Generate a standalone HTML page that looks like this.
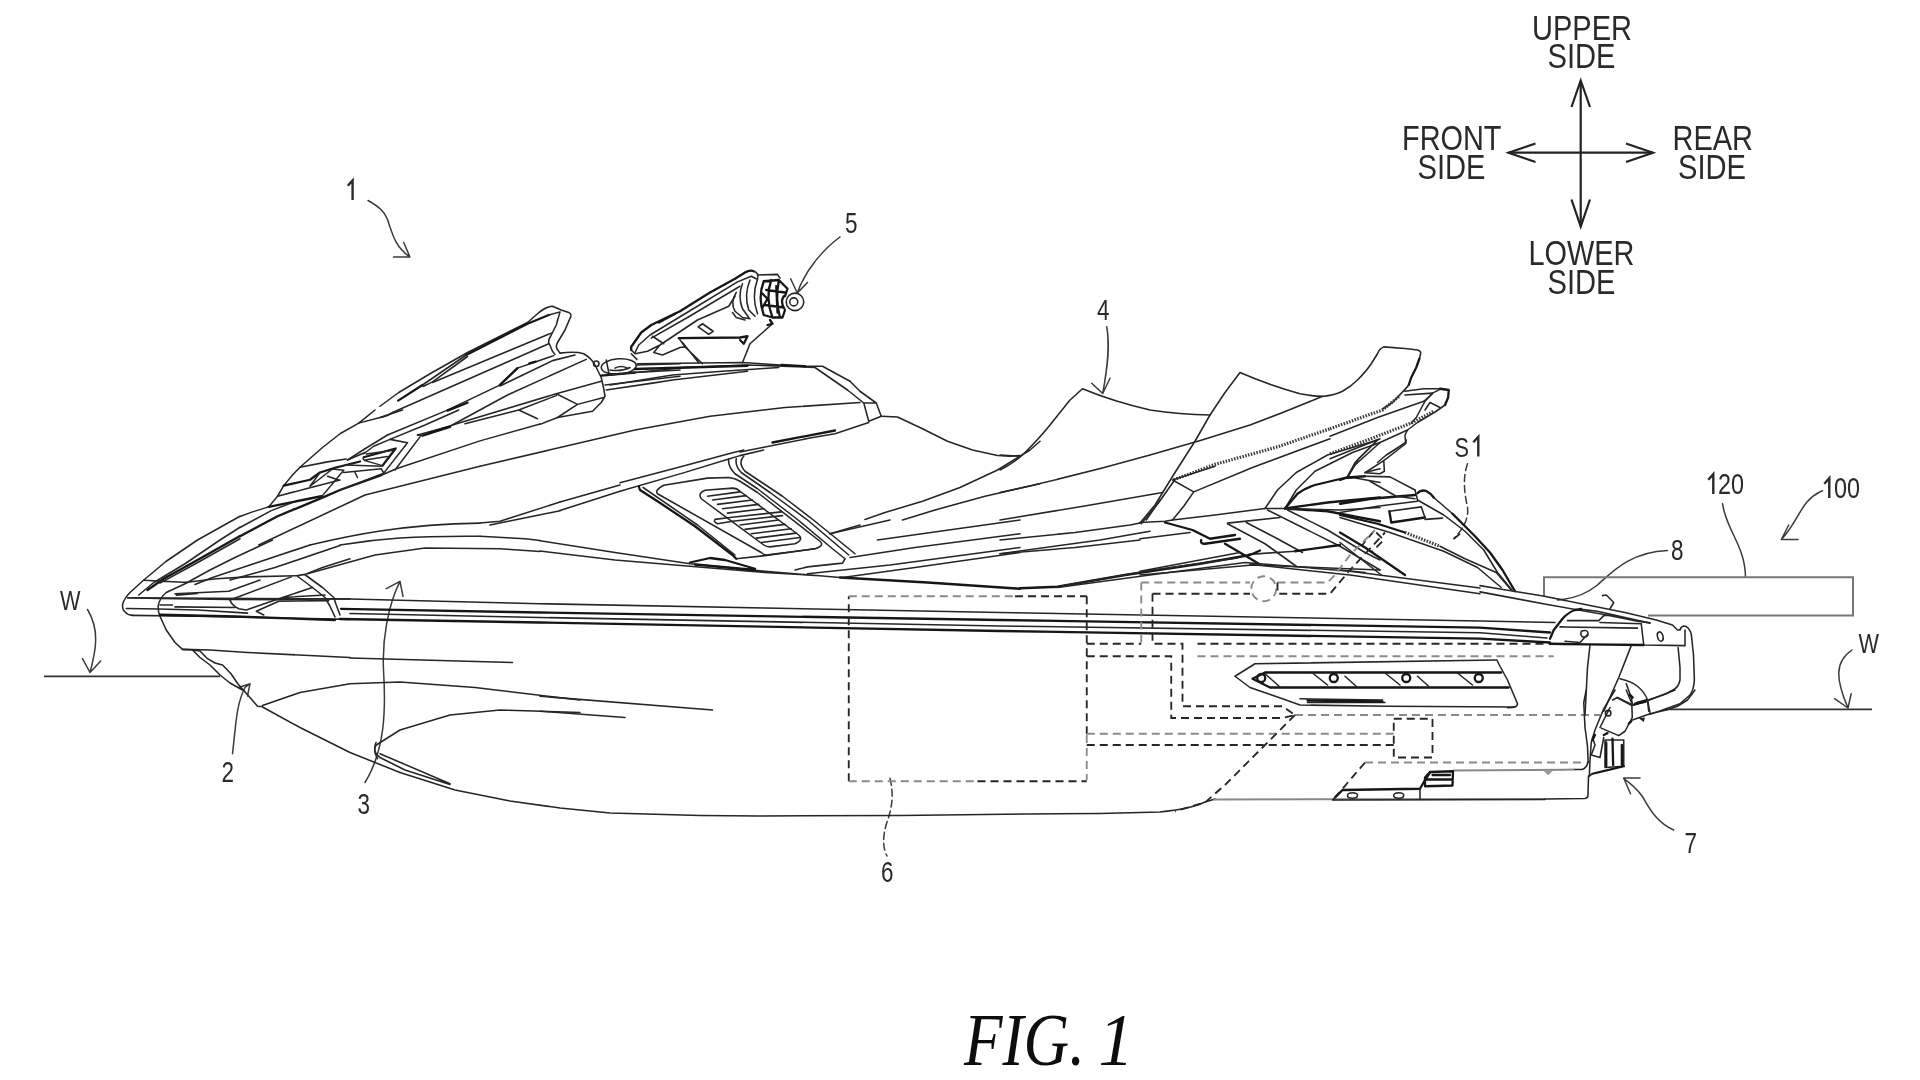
<!DOCTYPE html>
<html><head><meta charset="utf-8"><title>FIG. 1</title>
<style>
html,body{margin:0;padding:0;background:#fff;}
body{width:1920px;height:1080px;overflow:hidden;font-family:"Liberation Sans",sans-serif;}
svg{display:block;position:absolute;left:0;top:0;}
.t{font-family:"Liberation Sans",sans-serif;fill:#2a2a2a;}
.c{font-size:35.5px;}
.l{font-size:29.5px;}
.w{font-size:27.5px;}
.s,.s2,.th,.d,.dl{vector-effect:non-scaling-stroke;}
.s{fill:none;stroke:#262626;stroke-width:1.55;stroke-linecap:round;stroke-linejoin:round;}
.s2{fill:none;stroke:#151515;stroke-width:2.3;stroke-linecap:round;stroke-linejoin:round;}
.th{fill:none;stroke:#333;stroke-width:1;stroke-linecap:round;stroke-linejoin:round;}
.d{fill:none;stroke:#262626;stroke-width:1.85;stroke-dasharray:8 5;}
.dl{fill:none;stroke:#8a8a8a;stroke-width:1.85;stroke-dasharray:8 5;}
.g{fill:none;stroke:#888;stroke-width:2;vector-effect:non-scaling-stroke;}
.a{fill:none;stroke:#3a3a3a;stroke-width:1.5;stroke-linecap:round;stroke-linejoin:round;}
.hz{fill:none;stroke:#3a3a3a;stroke-width:3.2;stroke-dasharray:1.5 1.4;vector-effect:non-scaling-stroke;}
.one{fill:none;stroke:#2a2a2a;stroke-width:2.4;stroke-linejoin:miter;stroke-linecap:butt;}
.k{fill:none;stroke:#222;stroke-width:2.2;stroke-linecap:butt;stroke-linejoin:miter;}
</style></head><body>
<svg width="1920" height="1080" viewBox="0 0 1920 1080">
<defs><filter id="soft" x="0" y="0" width="1920" height="1080" filterUnits="userSpaceOnUse"><feGaussianBlur stdDeviation="0.55"/></filter></defs>
<rect width="1920" height="1080" fill="#fff"/>
<g filter="url(#soft)">
<!-- COMPASS -->
<g id="compass">
<text class="t c" x="1532" y="39.5" textLength="100" lengthAdjust="spacingAndGlyphs">UPPER</text>
<text class="t c" x="1547.5" y="68" textLength="68" lengthAdjust="spacingAndGlyphs">SIDE</text>
<text class="t c" x="1402" y="149.5" textLength="99.5" lengthAdjust="spacingAndGlyphs">FRONT</text>
<text class="t c" x="1417.5" y="178.5" textLength="68" lengthAdjust="spacingAndGlyphs">SIDE</text>
<text class="t c" x="1672.5" y="149.5" textLength="80.5" lengthAdjust="spacingAndGlyphs">REAR</text>
<text class="t c" x="1678" y="178.5" textLength="68" lengthAdjust="spacingAndGlyphs">SIDE</text>
<text class="t c" x="1528.5" y="264.5" textLength="106" lengthAdjust="spacingAndGlyphs">LOWER</text>
<text class="t c" x="1547.5" y="293.5" textLength="68" lengthAdjust="spacingAndGlyphs">SIDE</text>
<path class="k" d="M1580.7 81V226M1508.5 152.7H1653"/>
<path class="k" d="M1571.5 107L1580.7 80.5L1590 107M1571.5 199.5L1580.7 226.5L1590 199.5M1535.5 143.5L1508.5 152.7L1535.5 162M1626 143.5L1653 152.7L1626 162"/>
</g>
<!-- LABELS -->
<g id="labels">
<path class="one" d="M347.8 185.8L352.6 180.4V200"/>
<text class="t l" x="845" y="232.5" textLength="12.5" lengthAdjust="spacingAndGlyphs">5</text>
<text class="t l" x="1097" y="320" textLength="12.5" lengthAdjust="spacingAndGlyphs">4</text>
<text class="t w" x="1454.5" y="456.5" textLength="14.5" lengthAdjust="spacingAndGlyphs">S</text><path class="one" d="M1473.3 442.3L1478.3 436.8V456.5"/>
<path class="one" d="M1708.3 479.8L1713.3 474.2V494"/><text class="t l" x="1718" y="494" textLength="26" lengthAdjust="spacingAndGlyphs">20</text>
<path class="one" d="M1824.3 483.8L1829.3 478.2V498"/><text class="t l" x="1834" y="498" textLength="26" lengthAdjust="spacingAndGlyphs">00</text>
<text class="t l" x="1671" y="559.5" textLength="12.5" lengthAdjust="spacingAndGlyphs">8</text>
<text class="t w" x="60" y="609.5" textLength="20.5" lengthAdjust="spacingAndGlyphs">W</text>
<text class="t w" x="1858.5" y="652.5" textLength="20.5" lengthAdjust="spacingAndGlyphs">W</text>
<text class="t l" x="221.5" y="782" textLength="12.5" lengthAdjust="spacingAndGlyphs">2</text>
<text class="t l" x="357.5" y="813.5" textLength="12.5" lengthAdjust="spacingAndGlyphs">3</text>
<text class="t l" x="881" y="882" textLength="12.5" lengthAdjust="spacingAndGlyphs">6</text>
<text class="t l" x="1684.5" y="852.5" textLength="12.5" lengthAdjust="spacingAndGlyphs">7</text>
</g>
<!-- FIG caption -->
<text transform="translate(964,1065) scale(0.865,1)" style="font-family:'Liberation Serif',serif;font-style:italic;font-size:73px;fill:#111">FIG.</text>
<text transform="translate(1098.5,1065) scale(0.96,1)" style="font-family:'Liberation Serif',serif;font-style:italic;font-size:73px;fill:#111">1</text>
<!-- LEADERS -->
<g id="leaders">
<path class="a" d="M368 200.5C380 207 386 213 389 224C393 236 396 247 409 256.3M393.5 257H410M403.7 242.5L409.5 256"/>
<path class="a" d="M840 237C826 247 806 268 797.3 293M790.6 278.7L797.3 293L807.5 282.5"/>
<path class="a" d="M1106.7 326.7C1110 345 1108 365 1102.7 393.5M1091.7 383.3L1102.7 393.5L1110 378.3"/>
<path class="a" d="M1722.5 503.7C1726 530 1745 545 1745.5 577"/>
<path class="a" d="M1822.5 490.7C1800 500 1800 520 1781.3 539.5M1798 539.5H1781.3L1788.7 525"/>
<path class="a" d="M1667.5 550.5C1630 552 1612 572 1597.5 585C1585 595 1572 599 1557.5 600"/>
<path class="a" d="M87.5 609.5C100 630 96 650 90 672.5M82.5 658.7L90 672.5L100.7 661"/>
<path class="a" d="M1852 650C1834 662 1836 680 1848 708M1834.5 698.7L1848 708L1851.2 693.7"/>
<path class="a" d="M232.5 753.7C236 725 236 705 245 687.5L250 683.7M238.7 687.5L250 683.7L247.5 696"/>
<path class="a" d="M365 782.5C385 750 386 710 383.5 670C382 640 388 605 400 581.3M386.3 588.7L400 581.3L403 596.3"/>
<path class="a" d="M1673.7 830C1655 822 1648 805 1642 796C1636 788 1630 783 1623.7 778.7M1640 778H1623.7L1630.5 793.7"/>
<path class="a" style="stroke-dasharray:7 4" d="M1467.5 463.7C1462 480 1465 495 1467.5 507.5C1469 520 1462 530 1453.7 538.7"/>
<path class="a" style="stroke-dasharray:7 4" d="M890 778.3C894 795 892 808 887 822C882 838 883 848 887 856"/>
</g>
<!-- RECT 120 + water lines -->
<path d="M1544 596.5V577.2H1853V615.5H1648" fill="none" stroke="#777" stroke-width="2"/>
<path d="M44 676.3H220M1665 709.3H1872" fill="none" stroke="#333" stroke-width="1.8"/>
<!-- BOAT -->
<g id="boat">
<!-- T1: cowl 8x [440,290] -->
<g transform="translate(440,290) scale(0.125)">
<path class="s" d="M960 505C1040 495 1100 495 1150 510C1200 540 1230 580 1240 600L1290 700L1310 790L1320 850L1290 900L1220 970L940 1020"/>
<path class="s" d="M100 1080L930 830L1290 730M930 830L1100 915L1310 860M1100 915L940 1020L800 1075M200 1070L630 960L780 1030M630 960L930 845"/>
<ellipse class="s" cx="1430" cy="612" rx="140" ry="62" transform="rotate(-4 1430 612)"/>
<path class="s" d="M1330 560L1350 660M1360 640C1420 650 1480 640 1520 620M1400 625Q1450 600 1500 625"/>
<circle class="s" cx="1250" cy="590" r="22"/>
<path class="s2" d="M1290 685L1560 660"/>
<path class="s" d="M1570 600L1920 590M1560 660L1920 640M1320 760L1920 690M1330 800L1700 745"/>
</g>
<!-- V: visor 8x [380,300] -->
<g transform="translate(380,300) scale(0.125)">
<path class="s" d="M0 850L150 740L400 590L700 420L1000 270L1180 180L1260 110Q1320 55 1380 50L1450 80L1510 100Q1535 110 1525 135L1480 240L1420 340Q1405 370 1415 390L1440 425"/>
<path class="s2" d="M145 805L340 680M690 440L1180 190L1350 120"/>
<path class="s" d="M340 680L690 440M345 692L420 655L700 452M1350 120L1440 95L1410 200L1370 280Q1345 320 1350 340L1380 410L1400 435"/>
<path class="s" d="M420 660L1370 265M0 940C40 935 60 925 100 900L1350 350"/>
<path class="s" d="M60 1080L530 885L950 685L1100 545L1230 500L1390 445"/>
<path class="s2" d="M540 885L700 822M960 680L1100 545M1195 507L1245 493"/>
<path class="s" d="M960 688L1380 485L1560 440M300 1080L560 1010L1020 760L1650 475"/>
<path class="s2" d="M400 1060L560 1010"/>
</g>
<!-- W: vents 8x [240,410] -->
<g transform="translate(240,410) scale(0.125)">
<path class="s" d="M1080 0L950 105L800 190L660 300L480 458L420 520L350 605L300 690L230 775L100 815L0 852"/>
<path class="s" d="M950 105L1120 60L1300 0"/>
<path class="s" d="M480 458L700 415L850 392"/>
<path class="s2" d="M350 605L560 558L640 500L760 462L960 412"/>
<path class="s" d="M300 690L560 622L800 560"/>
<path class="s2" d="M230 775L650 690"/>
<path class="s2" d="M0 1010L300 850L650 705L800 640L1130 522"/>
<path class="s" d="M1130 522L1250 470L1920 247L2400 112"/>
<path class="s" d="M0 940L250 805L420 740"/>
<path class="s" d="M150 1080L1000 680L1920 450"/>
<path class="s" d="M560 1080C900 1000 1300 915 1920 905M800 1080C1100 1030 1400 1005 1920 1010"/>
<path class="s" d="M1180 200L1000 310L860 400M1750 0L1480 120L1200 235L1070 290L990 350"/>
<path class="s2" d="M1680 135L1460 205"/>
<path class="s" d="M1460 205L1420 200M1440 215L1240 480M1340 262L1150 505M1200 235L1340 262"/>
<path class="s2" d="M990 378L1245 308L1140 445"/>
<path class="s" d="M1140 445L1000 405Q975 390 990 378M1010 352L1230 322M1000 400L1180 372M860 400L1000 340"/>
<path class="s" d="M850 440L1130 450M830 500L1130 470L1150 505L800 640"/>
<path class="s" d="M560 610L740 472L830 482L660 685M640 500L560 610M700 530L790 560M920 500L940 540"/>
</g>
<!-- B: nose 8x [110,540] -->
<g transform="translate(110,540) scale(0.125)">
<path class="s" d="M1040 -190L700 0L450 170L270 320L160 420Q110 470 100 520Q100 560 120 575Q140 600 180 603"/>
<path class="s" d="M1040 -102L880 0L600 190L350 340L230 440"/>
<path class="s2" d="M1040 -32L700 160L430 310L300 400"/>
<path class="s" d="M1040 -10L720 170L400 345M270 322L620 340"/>
<path class="s" d="M1300 0L1000 140L800 240L600 350L450 420Q395 465 385 530Q385 580 400 610L450 720L520 820L580 875L680 880"/>
<path class="s" d="M580 875L800 880L1100 900L1920 940"/>
<path class="s" d="M140 462L390 468L950 475L1380 478L1750 470L1920 472M400 520L500 520M520 535L1000 540M130 548L390 552L700 560L1100 585M180 603L700 610L1200 620L1920 635"/>
<path class="s2" d="M400 598L1000 612L1800 640"/>
<path class="s" d="M600 340L850 310L1100 295L1500 285L1560 275L1700 220L1920 150"/>
<path class="s" d="M1560 278L1700 380L1790 460L1810 520L1840 600M1500 290L1620 380L1720 460L1760 530L1800 615"/>
<path class="s" d="M520 430L950 410L1200 320M530 442L700 428M960 480L1450 295M1090 560L1350 470L1620 380M1170 570L1350 490L1750 485M960 480Q970 520 1030 550L1090 560M1380 460L1720 440M1170 570L1230 600"/>
</g>
<!-- N: front hull 4x [100,490] -->
<g transform="translate(100,490) scale(0.25)">
<path class="s" d="M380 378L450 350L600 300L840 220M520 360L700 310L960 222M830 335L1100 260L1300 232L1600 235L1760 246"/>
<path class="s" d="M1520 132L1600 125L1840 48M1560 140L1840 83M1520 185L1700 195L1760 202"/>
<path class="s" d="M650 868L800 950L1000 1050L1200 1130"/>
<path class="s" d="M650 862L800 810L1000 775L1200 768L1500 790L1920 840"/>
<path class="s" d="M1105 1020L1200 960L1400 900L1600 880L1920 890M1105 1020Q1090 1040 1110 1075"/>
<path class="s" d="M1000 672L1650 690"/>
</g>
<!-- HB: handlebar 8x [610,255] -->
<g transform="translate(610,255) scale(0.125)">
<path class="s2" d="M170 760Q165 730 180 720L250 620L330 560L560 450L800 300L1000 190L1080 140Q1120 115 1150 130"/>
<path class="s" d="M1150 130Q1195 145 1180 195M200 780L230 720L320 640L600 470L1020 215L1130 170L1170 190M330 665L620 500L1040 250"/>
<path class="s2" d="M390 540L520 470"/>
<path class="s" d="M170 760L200 790L300 770L400 720L700 520L950 410L1000 330M400 720L350 780L420 800L560 740L600 735M340 650L430 710M170 790L215 835"/>
<path class="s2" d="M550 665L1040 660L1100 650L1070 710L1040 680"/>
<path class="s" d="M550 665L600 735L740 870M580 700L710 862M1300 550L1120 710L1060 860"/>
<path class="s" d="M705 575L740 550L825 610L790 635Z"/>
<path class="s" d="M1010 300Q960 380 1000 450L1060 500L1120 510M1060 230Q1020 330 1060 430L1110 500M1120 200Q1070 320 1110 440L1160 490M1180 195Q1130 330 1180 470M980 460L1010 500L1080 520M1180 160L1340 155L1360 185"/>
<circle class="s" cx="1480" cy="375" r="70"/><circle class="s" cx="1470" cy="375" r="32"/>
<path class="s2" d="M1230 210Q1180 340 1230 480M1290 200Q1240 340 1300 500M1350 210Q1320 350 1360 500M1230 210L1350 200L1420 270L1400 330M1230 480L1300 500L1380 500L1400 440M1250 280L1400 300M1240 400L1390 420M1330 250L1340 460M1280 520L1300 550L1260 560M1210 300L1260 350L1220 420M1390 330Q1360 375 1395 430"/>
<path class="s" d="M220 870L1060 860L1360 880M1560 890L1700 890L1920 1010M0 960L600 900L1100 880L1640 900L1900 1080M0 1040L500 960L900 930L1350 900M340 1025L500 1000L1100 930"/>
<path class="s2" d="M1370 880L1560 890M200 912L1100 886"/>
</g>
<!-- H: console 4x [560,250] -->
<g transform="translate(560,250) scale(0.25)">
<path class="s" d="M1160 525L1200 565L1265 612L1285 665M1150 560L1215 612L1235 685M1215 612L1265 612M1235 685L1285 665"/>
<path class="s" d="M-320 865L0 790L300 720L600 665L900 630L1200 610"/>
<path class="s" d="M0 1008L240 940M0 1042L240 965"/>
<path class="s" d="M1285 665L1350 668L1450 715L1550 765L1650 800L1750 822L1800 825L1840 822"/>
<path class="s" d="M1920 765L1880 800L1840 825L1750 880L1600 950L1450 1005L1300 1050L1220 1078M1920 935L1700 985L1500 1040L1370 1080"/>
<path class="s" d="M1235 690L1100 735L1000 752L720 808"/>
<path class="s2" d="M850 770L1100 722"/>
</g>
<!-- G: vent 8x [620,450] -->
<g transform="translate(620,450) scale(0.125)">
<path class="s" d="M0 262L500 130L900 22L990 0M0 330L500 185L870 72L960 45L1150 0"/>
<path class="s2" d="M150 290L160 320L300 410L600 610L900 840L930 870"/>
<path class="s" d="M185 300L620 600L920 840"/>
<path class="s" d="M870 72Q860 130 920 190L1100 310L1400 540L1700 790L1800 870M930 70Q920 130 970 180L1200 340L1500 560L1830 840M990 50Q940 100 1000 170L1300 370L1560 570L1880 830"/>
<path class="s" d="M300 350Q275 320 350 282L700 225L870 220Q920 225 960 250L1100 340L1600 730Q1640 765 1560 790L1170 840Q1150 840 1130 820Z"/>
<path class="s" d="M650 390Q620 345 680 322L900 305Q935 305 960 330L1430 680Q1470 720 1400 750L1200 775Q1170 775 1150 760Z"/>
<path class="s" d="M700 370L960 335M740 400L1010 365M780 435L1060 400M820 470L1110 435M860 505L1150 470M960 600L1270 560M1000 635L1320 595M1050 670L1370 630M1090 705L1410 665M1130 740L1440 700"/>
<path class="s" d="M760 555L880 540L1290 495M780 590L900 570L1300 525M760 555Q745 575 780 590"/>
<path class="s" d="M930 870L1160 845L1560 790M1800 870L1780 905L1500 935L1400 960M1680 670L1920 600"/>
</g>
<!-- S: seats 4x [1000,320] -->
<g transform="translate(1000,320) scale(0.25)">
<path class="s" d="M0 600Q60 570 100 530Q160 470 200 420L280 320L330 275Q450 325 600 360Q720 378 840 380"/>
<path class="s" d="M0 540L80 545"/>
<path class="s" d="M560 812L620 740L700 610L780 485L840 380L900 290L960 210Q1080 262 1200 295Q1250 305 1290 305"/>
<path class="s" d="M0 690Q300 625 600 540Q800 485 1000 420Q1150 365 1290 305"/>
<path class="s" d="M0 800L350 742L650 690M0 880L300 850L520 820L560 812M0 935L400 880L600 845"/>
<path class="s" d="M640 720L585 800"/>
</g>
<!-- RT: rear rest 8x [1330,330] -->
<g transform="translate(1330,330) scale(0.125)">
<path class="s" d="M-60 532Q40 520 100 490Q170 450 220 400Q290 330 330 270L380 190Q395 150 430 135L600 148L700 160Q730 170 725 190L715 230"/>
<path class="s2" d="M715 230L690 300L650 380L630 440"/>
<path class="s" d="M630 440L600 475L500 580L420 632M600 490L750 470L880 470"/>
<path class="s2" d="M880 470L950 480L945 540L920 600"/>
<path class="s" d="M920 600L850 650L700 740L620 800L600 840L605 900L560 930L450 1000L380 1060"/>
<path class="s" d="M600 520L820 505L880 475M820 505L760 570L690 700L650 745M800 580L880 620M800 580L760 640"/>
<path class="s" d="M0 850L380 700L750 570L820 510M0 1030L400 870M200 1080L400 900L620 800"/>
<path class="hz" d="M0 790L420 640L560 525"/>
<path class="hz" d="M0 990L300 880L650 745L830 650"/>
</g>
<!-- RM: rear mid 8x [1140,440] -->
<g transform="translate(1140,440) scale(0.125)">
<path class="s" d="M270 330L150 500L10 670"/>
<path class="hz" d="M270 318L600 195L1100 55L1520 -90"/>
<path class="s" d="M260 320L600 210M260 320L430 415L900 220L1520 -10M430 415L350 530L260 640"/>
<path class="s" d="M260 640L600 600L1000 548L1160 548"/>
<path class="s" d="M1000 548L1100 400L1250 260L1500 120L1900 0M1160 548L1250 400L1400 250L1700 100L1920 20"/>
<path class="s2" d="M1160 548L1260 430Q1320 385 1400 360L1650 300L1700 300"/>
<path class="s" d="M1660 290L1720 180L1900 0"/>
<path class="s2" d="M1160 548L1500 500L1920 460M1160 548L1500 570L1920 650"/>
<path class="s" d="M1160 548L1600 560L1920 540M1700 300L1920 340M1800 260L1920 230"/>
<path class="s" d="M1020 560L1300 700L1600 850L1920 1040M1180 560L1500 720L1800 900L1920 960M700 670L1000 830L1250 1010M850 660L1100 790L1300 900"/>
<path class="s" d="M0 660L200 650L260 640M0 790L400 740M700 665L1120 620"/>
<path class="s2" d="M200 660L420 720L560 790L760 760M490 800Q480 830 520 830L800 790M680 830L850 930L950 990M1240 890L1600 840"/>
<path class="s" d="M870 915L1240 890M0 1050L800 900M0 1080L900 1000L1920 1040"/>
</g>
<!-- RC: rear cowl 8x [1340,440] -->
<g transform="translate(1340,440) scale(0.125)">
<path class="s" d="M530 0L525 30L350 165L200 262M350 165L355 250L320 270L200 262M300 0L150 150L60 300"/>
<path class="s2" d="M0 320L60 300L200 290"/>
<path class="s" d="M200 290L400 295L600 400"/>
<path class="s2" d="M620 425Q650 395 690 408Q730 430 750 460"/>
<path class="s" d="M750 460L900 590"/>
<path class="s2" d="M900 590L1000 690L1080 770L1200 900L1300 1040L1400 1210"/>
<path class="s" d="M620 480L830 600L1000 730L1150 880L1260 1060L1380 1205M600 400L620 480"/>
<path class="s2" d="M0 510L250 470L600 440"/>
<path class="s" d="M0 580L300 530L620 490M240 330L450 450L600 470"/>
<path class="s2" d="M0 600L300 670L520 740"/>
<path class="hz" d="M520 740L800 850"/>
<path class="s" d="M800 850L1000 950L1250 1060L1370 1200M0 620L400 740L830 890L1100 1020L1290 1180"/>
<path class="s2" d="M410 660L395 570M410 660L680 620"/>
<path class="s" d="M395 570L650 535L680 620M680 635L820 625"/>
<path class="d" d="M270 730L170 850M290 740L350 800L250 900M960 750L900 800"/>
<path class="s2" d="M0 740L200 860L520 1080"/>
<path class="s" d="M0 820L330 1080M0 1040L200 1060"/>
</g>
<!-- GLOBAL long lines -->
<g>
<path class="s" d="M128 597.7L350 599L540 603.7L1000 612.5L1480 621L1555 622.5"/>
<path class="s2" d="M341 608.8L540 612.5L1000 620L1480 627.7L1550 632.5"/>
<path class="s" d="M350 613.5L540 617.5L1000 626L1480 632.7L1547 638"/>
<path class="s2" d="M340 619L540 622.5L1000 631L1480 638.7L1550 642.5"/>
<path class="s" d="M400 772.5L455 790L510 801L560 808L610 813L700 815.5L760 816L900 815.5L1026 814L1100 813.5L1160 812Q1190 809 1205 802L1215 799"/>
<path class="g" d="M1213 799.5L1545 799"/>
<path class="s" d="M1545 799L1585 798.5Q1588 798 1588 795L1588.5 776"/>
<path class="g" d="M1453 770.5L1575 769.6"/>
<path class="s" d="M1575 769.6L1582 769.4Q1587 768 1588 762"/>
</g>
<path class="s" d="M192.5 650L200 651L207.5 658.7L215 663L222.5 665L231 673.7L238 684L250 697.5L257.5 706.2L262 706.5M192.5 650L200 657.5L210 665L220 675L230 683L242.5 690"/>
<path class="s" d="M376 742.5Q372 752 380 757.5L405 770L450 784.5M380 753.7L450 783.7"/>
<!-- M1: mid hull 4x [540,520] -->
<g transform="translate(540,520) scale(0.25)">
<path class="s" d="M0 83L300 130L600 175L900 205L1200 230M0 124L300 160L600 185L900 210L1100 222"/>
<path class="s2" d="M1200 230L1550 250L1920 275M600 170L680 152L740 160L860 195M620 178L860 200"/>
<path class="s" d="M1240 150L1500 110L1920 55M1070 215L1400 180L1920 110M1160 55L1400 0M1350 80L1920 0M1210 230L1500 190L1920 130"/>
<path class="s" d="M0 705L690 760M0 765L340 790"/>
<path class="d" d="M1235 1045V305"/>
<path class="dl" d="M1235 305H1900"/>
<path class="d" d="M1900 305H2187"/>
<path class="dl" d="M1235 1045H1750"/><path class="d" d="M1750 1045H2187"/>
</g>
<!-- M2: rear hull 4x [1000,540] -->
<g transform="translate(1000,540) scale(0.25)">
<path class="s2" d="M80 193L230 187L500 140L800 95L1000 60L1040 42"/>
<path class="s" d="M250 183L600 122L950 72M230 190L600 140L980 90L1400 125L1920 192M1000 97L1400 140L1920 215M0 55L300 30L560 0"/>
<path class="d" d="M347 225V780"/><path class="dl" d="M347 780V960"/>
<path class="dl" d="M565 170H1000M565 170V415"/>
<path class="d" d="M347 415H565M610 215H1000M610 215V415H730V665H1130L1180 700"/>
<circle class="dl" cx="1055" cy="195" r="50"/>
<path class="dl" d="M1110 170H1310L1340 140L1400 60L1500 -40"/>
<path class="d" d="M1110 170V215H1320L1400 120L1540 -30"/>
<path class="d" d="M347 465H685V712H1130L1180 700"/>
<path class="dl" d="M347 775H1575"/><path class="d" d="M347 820H1575"/>
<path class="d" d="M1575 715H1730V870H1575Z"/>
<path class="d" d="M790 415H2200"/><path class="dl" d="M790 465H2215M1180 700H2400"/>
<path class="d" d="M1180 700L1060 820L900 980L820 1050L700 1085M1460 890L1340 1030"/>
<path class="dl" d="M1460 890H2345"/>
<path class="s" d="M1985 480L1020 495L940 545L1000 590L1130 635L1200 660L1550 665L2060 668"/>
<path class="s2" d="M2005 530L1060 530L1010 555L1080 590L2035 590"/>
<path class="s" d="M1200 635L1530 640M1230 650L1540 650"/>
<path class="s2" d="M1230 642L1530 646"/>
<circle class="s2" cx="1045" cy="552" r="16"/><circle class="s2" cx="1335" cy="552" r="16"/><circle class="s2" cx="1625" cy="552" r="16"/><circle class="s2" cx="1915" cy="552" r="16"/>
<path class="s" d="M1060 535L1120 588M1250 532L1310 580M1380 545L1430 590M1540 532L1600 580M1670 545L1720 590M1830 532L1890 580"/>
<path class="s2" d="M1340 1030L1370 1000L1680 995L1700 960L1720 930"/>
<path class="s" d="M1340 1030L1330 1040L2180 1038"/>
<ellipse class="s" cx="1410" cy="1022" rx="20" ry="11"/><ellipse class="s" cx="1595" cy="1022" rx="20" ry="11"/>
<path class="s2" d="M1700 985L1810 982L1812 925L1720 928L1700 950ZM1700 958H1810M1730 940H1800"/>
<path class="s" d="M1680 995V1038"/>
</g>
<!-- ST: stern top 8x [1500,580] -->
<g transform="translate(1500,580) scale(0.125)">
<path class="s" d="M-160 45L0 72L345 128L700 200L1000 260L1250 320L1380 360L1420 400L1440 400Q1445 375 1470 368Q1510 370 1530 430L1548 600L1555 800Q1550 880 1520 920L1440 990L1200 1075"/>
<path class="s" d="M-160 95L0 125L400 200L800 270L1100 330L1200 342"/>
<path class="s2" d="M400 470L430 400L500 310Q550 255 600 240L650 232"/>
<path class="s" d="M650 235L780 250L1000 300L1200 345M540 325H790L830 285L900 280L1200 345M480 375L1100 385M800 340L1130 350"/>
<path class="s" d="M820 125L850 120L910 180L880 230"/>
<path class="s2" d="M400 510L700 515L1150 520"/>
<path class="s" d="M1150 520L1480 525V400M1130 350L1150 520"/>
<path class="s" d="M650 410Q700 390 705 430Q700 460 660 455Q640 440 650 410M705 430L640 500L520 490"/>
<ellipse class="s" cx="1282" cy="452" rx="22" ry="38" transform="rotate(-15 1282 452)"/>
<path class="s" d="M720 520L700 700L680 1080M1050 525L950 780L830 1050"/>
<path class="s" d="M1425 540L1440 700V800Q1430 850 1400 870L1330 910L1070 1000"/>
<path class="s" d="M960 790Q1050 810 1100 850Q1160 900 1180 960L1200 1060M1010 830L1050 940L1060 1000M900 960L940 940L1060 1000L1170 960"/>
<path class="s2" d="M1040 920L1060 940M1100 980L1170 962"/>
<path class="s" d="M-25 640L0 690L60 800L140 990Q140 1015 100 1020L60 1022"/>
</g>
<!-- SB: stern bottom 8x [1500,690] -->
<g transform="translate(1500,690) scale(0.125)">
<path class="s" d="M1560 0L1500 80L1420 130L1330 160L1200 190L1060 240M1400 0L1300 40L1170 90L1070 120"/>
<path class="s" d="M690 0L670 100L680 300L700 450L705 580"/>
<path class="s" d="M920 0L830 150L760 320L730 420L720 560L715 690M880 140L800 300"/>
<circle class="s" cx="865" cy="185" r="22"/>
<path class="s" d="M935 60L1055 125L1058 220L1000 330L950 365L810 305M1010 0L1060 120L1180 90L1190 170"/>
<path class="s" d="M840 400H990V610L840 620ZM740 380L760 440L730 520L800 540L830 380"/>
<path class="s2" d="M900 390L905 600M975 440V600M850 420V610M740 670L990 610M830 360L860 345M740 400L760 360"/>
<path class="s" d="M710 690L740 670"/>
<path class="s2" d="M1080 110L1160 95M1040 40L1060 60M1030 270L1050 250"/>
<path d="M1110 225L1160 220L1150 255Z" fill="#222"/>
<path d="M340 640L385 682L430 640Z" fill="#999"/>
</g>
</g>
<!--ENDBOAT-->
</g>
</svg>
</body></html>
